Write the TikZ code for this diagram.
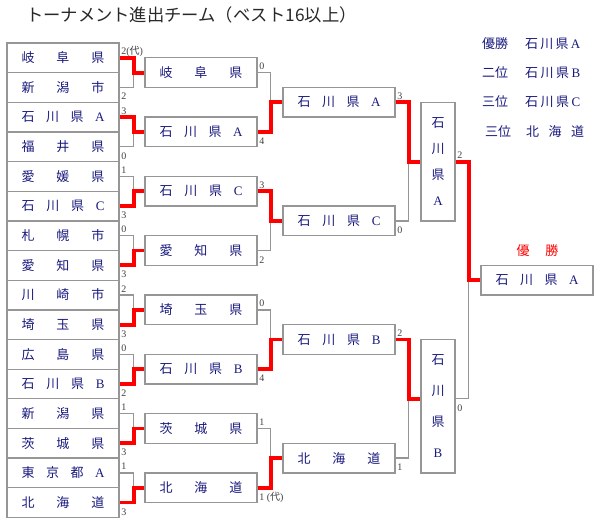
\documentclass[tikz,border=0pt]{standalone}
\usepackage{fontspec}
\setmainfont{Liberation Serif}
\newfontfamily\jp{Noto Sans CJK JP}
\usetikzlibrary{calc}
\definecolor{navyc}{RGB}{25,25,125}
\definecolor{boxgray}{RGB}{150,150,150}
\definecolor{winred}{RGB}{255,0,0}
\definecolor{titlec}{RGB}{40,40,40}
\newcommand\J[1]{{\jp #1}}
\newcommand\three[3]{\makebox[83pt][s]{\J{#1}\hfill\J{#2}\hfill\J{#3}}}
\newcommand\four[4]{\makebox[83pt][s]{\J{#1}\hfill\J{#2}\hfill\J{#3}\hfill #4}}
\newcommand\dai{(\J{代})}
\tikzset{
  team/.style={draw=boxgray, line width=1.3pt, minimum width=112pt, minimum height=29.65pt,
    inner sep=0pt, text=navyc, font=\fontsize{13}{13}\selectfont},
  semi/.style={draw=boxgray, line width=1.3pt, minimum width=34pt, inner sep=0pt,
    text=navyc, align=center},
  lose/.style={draw=boxgray, line width=1.3pt},
  win/.style={draw=winred, line width=3.8pt, line join=miter},
  score/.style={inner sep=0pt, text=black!75, font=\fontsize{10}{10}\selectfont},
  sup/.style={score, anchor=base west, xshift=1.5pt, yshift=3pt},
  sdown/.style={score, anchor=base west, xshift=1.5pt, yshift=-12.5pt},
  legend/.style={inner sep=0pt, text=navyc, font=\fontsize{13}{13}\selectfont, anchor=west},
}
\begin{document}
\begin{tikzpicture}[x=1pt,y=-1pt]
\useasboundingbox (0,0) rectangle (600,530);

% title
\node[anchor=west, inner sep=0pt, text=titlec, font=\jp\fontsize{17.3}{17.3}\selectfont] (title) at (26,15)
  {トーナメント進出チーム（ベスト16以上）};

% legend
\node[legend] (l1a) at (482,44) {\J{優勝}};
\node[legend] (l1b) at (525,44) {\makebox[55pt][s]{\J{石}\hfill\J{川}\hfill\J{県}\hfill A}};
\node[legend] (l2a) at (482,73) {\J{二位}};
\node[legend] (l2b) at (525,73) {\makebox[55pt][s]{\J{石}\hfill\J{川}\hfill\J{県}\hfill B}};
\node[legend] (l3a) at (482,102) {\J{三位}};
\node[legend] (l3b) at (525,102) {\makebox[55pt][s]{\J{石}\hfill\J{川}\hfill\J{県}\hfill C}};
\node[legend] (l4a) at (485,132) {\J{三位}};
\node[legend] (l4b) at (526,132) {\makebox[58pt][s]{\J{北}\hfill\J{海}\hfill\J{道}}};

% column 1
\foreach \i/\t in {
  0/{\three{岐}{阜}{県}}, 1/{\three{新}{潟}{市}}, 2/{\four{石}{川}{県}{A}}, 3/{\three{福}{井}{県}},
  4/{\three{愛}{媛}{県}}, 5/{\four{石}{川}{県}{C}}, 6/{\three{札}{幌}{市}}, 7/{\three{愛}{知}{県}},
  8/{\three{川}{崎}{市}}, 9/{\three{埼}{玉}{県}}, 10/{\three{広}{島}{県}}, 11/{\four{石}{川}{県}{B}},
  12/{\three{新}{潟}{県}}, 13/{\three{茨}{城}{県}}, 14/{\four{東}{京}{都}{A}}, 15/{\three{北}{海}{道}}}
  \node[team] (a\i) at (63,{57.825+29.65*\i}) {\t};

% column 2
\foreach \j/\t in {
  0/{\three{岐}{阜}{県}}, 1/{\four{石}{川}{県}{A}}, 2/{\four{石}{川}{県}{C}}, 3/{\three{愛}{知}{県}},
  4/{\three{埼}{玉}{県}}, 5/{\four{石}{川}{県}{B}}, 6/{\three{茨}{城}{県}}, 7/{\three{北}{海}{道}}}
  \node[team] (b\j) at (201,{72.65+59.3*\j}) {\t};

% column 3
\foreach \k/\t in {
  0/{\four{石}{川}{県}{A}}, 1/{\four{石}{川}{県}{C}}, 2/{\four{石}{川}{県}{B}}, 3/{\three{北}{海}{道}}}
  \node[team] (c\k) at (339,{102.3+118.6*\k}) {\t};

% semifinal winners
\node[semi, minimum height=118.6pt, font=\fontsize{13}{26}\selectfont] (d0) at (438,161.6)
  {\J{石}\\\J{川}\\\J{県}\\A};
\node[semi, minimum height=133.5pt, font=\fontsize{13}{31}\selectfont] (d1) at (438,406.25)
  {\J{石}\\\J{川}\\\J{県}\\B};
\coordinate (jB) at ($(c2.east)!0.5!(c3.east)$);

% final
\node[inner sep=0pt, text=winred, font=\fontsize{13}{13}\selectfont] (champ) at (537.5,251)
  {\makebox[42pt][s]{\J{優}\hfill\J{勝}}};
\node[team] (f) at (537,280.2) {\four{石}{川}{県}{A}};

% connectors column 1 -> 2 (loser first, winner on top)
\foreach \w/\l/\t in {0/1/0, 2/3/1, 5/4/2, 7/6/3, 9/8/4, 11/10/5, 13/12/6, 15/14/7} {
  \draw[lose] (a\l.east) -- ++(14,0) |- (b\t.west);
  \draw[win] (a\w.east) -- ++(14,0) |- (b\t.west);
}
% column 2 -> 3
\foreach \w/\l/\t in {1/0/0, 2/3/1, 5/4/2, 7/6/3} {
  \draw[lose] (b\l.east) -- ++(13,0) |- (c\t.west);
  \draw[win] (b\w.east) -- ++(13,0) |- (c\t.west);
}
% column 3 -> semifinal boxes
\draw[lose] (c1.east) -- ++(13,0) |- (d0.west);
\draw[win] (c0.east) -- ++(13,0) |- (d0.west);
\draw[lose] (c3.east) -- ++(13,0) |- (d1.west |- jB);
\draw[win] (c2.east) -- ++(13,0) |- (d1.west |- jB);
% semifinal -> final
\draw[lose] (d1.east |- jB) -- ++(13,0) |- (f.west);
\draw[win] (d0.east) -- ++(13,0) |- (f.west);

% scores column 1
\node[sup] (s0) at (a0.east) {2\dai};
\node[sdown] (s1) at (a1.east) {2};
\node[sup] (s2) at (a2.east) {3};
\node[sdown] (s3) at (a3.east) {0};
\node[sup] (s4) at (a4.east) {1};
\node[sdown] (s5) at (a5.east) {3};
\node[sup] (s6) at (a6.east) {0};
\node[sdown] (s7) at (a7.east) {3};
\node[sup] (s8) at (a8.east) {2};
\node[sdown] (s9) at (a9.east) {3};
\node[sup] (s10) at (a10.east) {0};
\node[sdown] (s11) at (a11.east) {2};
\node[sup] (s12) at (a12.east) {1};
\node[sdown] (s13) at (a13.east) {3};
\node[sup] (s14) at (a14.east) {1};
\node[sdown] (s15) at (a15.east) {3};
% scores column 2
\node[sup] (t0) at (b0.east) {0};
\node[sdown] (t1) at (b1.east) {4};
\node[sup] (t2) at (b2.east) {3};
\node[sdown] (t3) at (b3.east) {2};
\node[sup] (t4) at (b4.east) {0};
\node[sdown] (t5) at (b5.east) {4};
\node[sup] (t6) at (b6.east) {1};
\node[sdown] (t7) at (b7.east) {1 \dai};
% scores column 3
\node[sup] (u0) at (c0.east) {3};
\node[sdown] (u1) at (c1.east) {0};
\node[sup] (u2) at (c2.east) {2};
\node[sdown] (u3) at (c3.east) {1};
% scores semifinal
\node[sup] (v0) at (d0.east) {2};
\node[sdown] (v1) at (d1.east |- jB) {0};
\end{tikzpicture}
\end{document}
